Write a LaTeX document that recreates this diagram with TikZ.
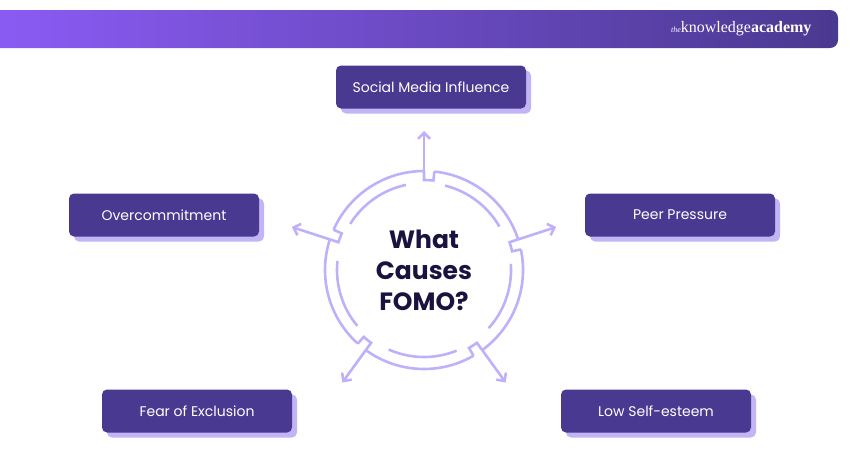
\documentclass[tikz,border=0pt]{standalone}
\usepackage{fontspec}
\setmainfont{Poppins}
\newfontfamily\logofont{Liberation Serif}
\usetikzlibrary{arrows.meta}
\definecolor{boxc}{HTML}{4A3990}
\definecolor{shad}{HTML}{C3B4F5}
\definecolor{ringc}{HTML}{C0B0FA}
\definecolor{navy}{HTML}{1C1240}
\definecolor{hl}{HTML}{8C5CF6}
\begin{document}
\begin{tikzpicture}[x=1pt,y=-1pt,
  box/.style={fill=boxc,rounded corners=5pt,minimum width=190pt,minimum height=43pt,text=white,font=\fontsize{14}{16}\selectfont},
  sh/.style={fill=shad,rounded corners=5pt,minimum width=190pt,minimum height=43pt},
  ring/.style={draw=ringc,line width=2.6pt},
  arr/.style={ring,-{Straight Barb[length=6pt,width=12pt]}}]
\useasboundingbox (0,0) rectangle (850,450);
\shade[left color=hl,right color=boxc,rounded corners=8pt] (-20,10) rectangle (838,48);
\node[text=white,font=\logofont\fontsize{16}{18}\selectfont,anchor=east] (logo) at (815,29) {{\itshape\footnotesize the}knowledge\textbf{academy}};
% center
\coordinate (c) at (424,270);
\foreach \t [count=\i] in {-90,-18,54,126,198}{
  \draw[ring] (c) ++(\t:99) arc[start angle=\t,end angle=\t-66,radius=99];
  \draw[ring] (c) ++(\t-66:99) -- ++(\t-66:-9) arc[start angle=\t-66, end angle=\t-72,radius=90] -- ++(\t-72:9);
  \draw[ring] (c) ++(\t-12:87) arc[start angle=\t-12,end angle=\t-58,radius=87];
  \draw[arr] (c) ++(\t:99) coordinate (s\i) -- ++(\t:40) coordinate (t\i);
}
\node[font=\bfseries\fontsize{25}{31}\selectfont,text=navy,align=center] (title) at (c) {What\\Causes\\FOMO?};
\foreach \n/\x/\y/\txt in {a/431/87/Social Media Influence,b/164/215/Overcommitment,d/680/215/Peer Pressure,e/197/411/Fear of Exclusion,f/656/411/Low Self-esteem}{
  \node[sh] (\n s) at (\x+5,\y+5) {};
  \node[box] (\n) at (\x,\y) {\txt};
}
\end{tikzpicture}
\end{document}
